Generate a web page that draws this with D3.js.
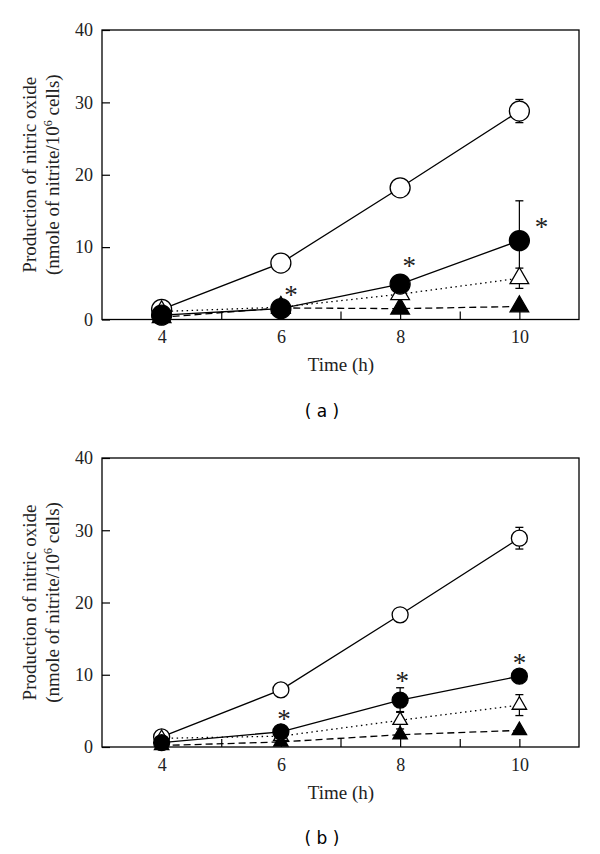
<!DOCTYPE html>
<html>
<head>
<meta charset="utf-8">
<script src="https://cdn.jsdelivr.net/npm/d3@7"></script>
<style>
body { margin: 0; background: #fff; }
</style>
</head>
<body>
<script>
var times = [4, 6, 8, 10],
xTicks = [4, 5, 6, 7, 8, 9, 10],
yTicks = [0, 10, 20, 30, 40];

// panel (a)
var ctrlA = [1.4, 7.8, 18.2, 28.8],
ctrlErrA = [0, 0, 0, 1.6],
fillCircA = [0.6, 1.5, 4.9, 10.9],
fillCircErrA = [0, 0, 0, 5.5],
openTriA = [1.1, 1.7, 3.5, 5.7],
openTriErrA = [0, 0, 0, 1.4],
fillTriA = [0.3, 1.6, 1.5, 1.8],
fillTriErrA = [0, 0, 0, 0],
starsA = [6, 8, 10];

// panel (b)
var ctrlB = [1.4, 7.9, 18.3, 28.9],
ctrlErrB = [0, 0, 0, 1.5],
fillCircB = [0.6, 2.1, 6.5, 9.8],
fillCircErrB = [0, 0, 1.7, 0],
openTriB = [1.2, 1.5, 3.7, 5.8],
openTriErrB = [0, 0, 1.2, 1.45],
fillTriB = [0.2, 0.7, 1.7, 2.3],
fillTriErrB = [0, 0, 0, 0],
starsB = [6, 8, 10];

var serif = "'Liberation Serif', 'Times New Roman', serif";

var svg = d3.select("body").append("svg")
	.attr("width", 600)
	.attr("height", 854);

drawPanel({
	top: 30, bottom: 319.5, label: "( a )", r: 10, tri: 150,
	series: [
		{v: ctrlA, e: ctrlErrA, shape: "circle", fill: "#fff", dash: null},
		{v: fillTriA, e: fillTriErrA, shape: "tri", fill: "#000", dash: "7,4"},
		{v: openTriA, e: openTriErrA, shape: "tri", fill: "#fff", dash: "1.5,3.5"},
		{v: fillCircA, e: fillCircErrA, shape: "circle", fill: "#000", dash: null}
	],
	stars: starsA, starOf: fillCircA,
	starOff: [[10, -18], [9, -22], [22, -18]]
});

drawPanel({
	top: 458, bottom: 747, label: "( b )", r: 8, tri: 90,
	series: [
		{v: ctrlB, e: ctrlErrB, shape: "circle", fill: "#fff", dash: null},
		{v: fillTriB, e: fillTriErrB, shape: "tri", fill: "#000", dash: "7,4"},
		{v: openTriB, e: openTriErrB, shape: "tri", fill: "#fff", dash: "1.5,3.5"},
		{v: fillCircB, e: fillCircErrB, shape: "circle", fill: "#000", dash: null}
	],
	stars: starsB, starOf: fillCircB,
	starOff: [[3, -17], [2, -23], [0, -17]]
});

function drawPanel(cfg) {
	var x = d3.scaleLinear().domain([3, 11]).range([102, 579]);
	var y = d3.scaleLinear().domain([0, 40]).range([cfg.bottom, cfg.top]);
	var g = svg.append("g");

	// y axis
	var ya = g.append("g")
		.attr("transform", "translate(102,0)")
		.call(d3.axisLeft(y).tickValues(yTicks).tickSizeInner(-8).tickSizeOuter(0).tickPadding(9));
	ya.select(".domain").remove();
	ya.attr("font-family", serif).attr("font-size", 18);
	ya.selectAll("text").attr("fill", "#222");
	ya.selectAll("line").attr("stroke-width", 1.2);

	// x axis
	var xa = g.append("g")
		.attr("transform", "translate(0," + cfg.bottom + ")")
		.call(d3.axisBottom(x).tickValues(xTicks).tickSizeInner(-8).tickSizeOuter(0).tickPadding(11)
			.tickFormat(function(d){ return d % 2 == 0 ? d : ""; }));
	xa.select(".domain").remove();
	xa.attr("font-family", serif).attr("font-size", 18);
	xa.selectAll("text").attr("fill", "#222");
	xa.selectAll("line").attr("stroke-width", 1.2);

	// frame
	g.append("rect")
		.attr("x", 102)
		.attr("y", cfg.top)
		.attr("width", 579 - 102)
		.attr("height", cfg.bottom - cfg.top)
		.attr("fill", "none")
		.attr("stroke", "#000")
		.attr("stroke-width", 1.3);

	// titles
	var cy = (cfg.top + cfg.bottom) / 2;
	g.append("text")
		.attr("transform", "translate(36," + cy + ") rotate(-90)")
		.attr("text-anchor", "middle")
		.attr("font-family", serif)
		.attr("font-size", 19)
		.attr("fill", "#222")
		.text("Production of nitric oxide");
	var t2 = g.append("text")
		.attr("transform", "translate(59," + cy + ") rotate(-90)")
		.attr("text-anchor", "middle")
		.attr("font-family", serif)
		.attr("font-size", 19)
		.attr("fill", "#222");
	t2.append("tspan").text("(nmole of nitrite/10");
	t2.append("tspan").attr("dy", -7).attr("font-size", 12).text("6");
	t2.append("tspan").attr("dy", 7).text(" cells)");

	g.append("text")
		.attr("x", 341)
		.attr("y", cfg.bottom + 51.5)
		.attr("text-anchor", "middle")
		.attr("font-family", serif)
		.attr("font-size", 19)
		.attr("fill", "#222")
		.text("Time (h)");

	g.append("text")
		.attr("x", 322)
		.attr("y", cfg.bottom + 97)
		.attr("text-anchor", "middle")
		.attr("font-family", "'DejaVu Sans', sans-serif")
		.attr("font-size", 17)
		.attr("fill", "#000")
		.text(cfg.label);

	// lines
	var line = d3.line()
		.x(function(d, i){ return x(times[i]); })
		.y(function(d){ return y(d); });
	cfg.series.forEach(function(s){
		g.append("path")
			.attr("d", line(s.v))
			.attr("fill", "none")
			.attr("stroke", "#000")
			.attr("stroke-width", 1.3)
			.attr("stroke-dasharray", s.dash);
	});

	// error bars
	cfg.series.forEach(function(s){
		s.v.forEach(function(v, i){
			var e = s.e[i];
			if (!e) return;
			var cx = x(times[i]);
			g.append("line")
				.attr("x1", cx).attr("x2", cx)
				.attr("y1", y(v - e)).attr("y2", y(v + e))
				.attr("stroke", "#000").attr("stroke-width", 1.2);
			[v - e, v + e].forEach(function(w){
				g.append("line")
					.attr("x1", cx - 4).attr("x2", cx + 4)
					.attr("y1", y(w)).attr("y2", y(w))
					.attr("stroke", "#000").attr("stroke-width", 1.3);
			});
		});
	});

	// markers
	var tri = d3.symbol().type(d3.symbolTriangle).size(cfg.tri);
	cfg.series.forEach(function(s){
		s.v.forEach(function(v, i){
			if (s.shape == "circle") {
				g.append("circle")
					.attr("cx", x(times[i]))
					.attr("cy", y(v))
					.attr("r", cfg.r)
					.attr("fill", s.fill)
					.attr("stroke", "#000")
					.attr("stroke-width", 1.3);
			} else {
				g.append("path")
					.attr("d", tri())
					.attr("transform", "translate(" + x(times[i]) + "," + y(v) + ")")
					.attr("fill", s.fill)
					.attr("stroke", "#000")
					.attr("stroke-width", 1.3);
			}
		});
	});

	// asterisks
	cfg.stars.forEach(function(t, k){
		var i = times.indexOf(t);
		g.append("text")
			.attr("x", x(t) + cfg.starOff[k][0])
			.attr("y", y(cfg.starOf[i]) + cfg.starOff[k][1] + 13)
			.attr("text-anchor", "middle")
			.attr("font-family", serif)
			.attr("font-size", 27)
			.attr("fill", "#222")
			.text("*");
	});
}
</script>
</body>
</html>
